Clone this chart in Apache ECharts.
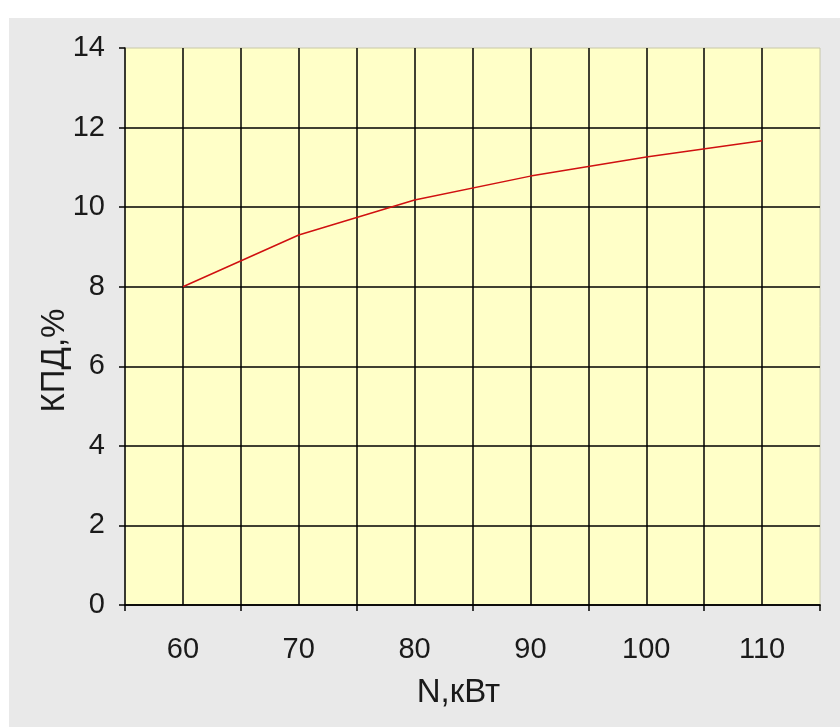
<!DOCTYPE html>
<html>
<head>
<meta charset="utf-8">
<script src="https://cdn.jsdelivr.net/npm/echarts@6/dist/echarts.min.js"></script>
<style>
html,body{margin:0;padding:0;background:#ffffff;}
#wrap{position:absolute;left:9px;top:18px;width:831px;height:709px;background:#e9e9e9;}
#c{position:absolute;left:0;top:0;width:840px;height:727px;}
</style>
</head>
<body>
<div id="wrap"></div>
<div id="c"></div>
<script>
const categories = [60, 70, 80, 90, 100, 110];
const efficiency = [8.0, 9.3, 10.18, 10.78, 11.26, 11.67];
const yTicks = [0, 2, 4, 6, 8, 10, 12, 14];

const chart = echarts.init(document.getElementById('c'), null, {renderer: 'canvas'});
const font = '"Liberation Sans", Arial, sans-serif';
chart.setOption({
  backgroundColor: 'transparent',
  animation: false,
  grid: {left: 125, right: 20, top: 48, bottom: 122, show: true,
         backgroundColor: '#ffffc8', borderColor: '#c8c8a8', borderWidth: 1},
  xAxis: [{
    type: 'value', min: 55, max: 115, interval: 5,
    axisLine: {show: true, lineStyle: {color: '#000', width: 1.5}},
    axisTick: {show: false},
    axisLabel: {color: '#1a1a1a', fontSize: 29, fontFamily: font, margin: 30,
      formatter: v => categories.indexOf(v) >= 0 ? String(v) : ''},
    splitLine: {show: true, showMinLine: false, showMaxLine: false, lineStyle: {color: '#000', width: 1.5}},
    name: 'N,кВт', nameLocation: 'middle', nameGap: 71,
    nameTextStyle: {color: '#1a1a1a', fontSize: 33, fontFamily: font, padding: [0, 28, 0, 0]}
  }, {
    type: 'value', min: 55, max: 115, interval: 10, position: 'bottom',
    axisLine: {show: true, lineStyle: {color: '#000', width: 1.5}},
    axisTick: {show: true, length: 6, lineStyle: {color: '#000', width: 1.5}},
    axisLabel: {show: false},
    splitLine: {show: false}
  }],
  yAxis: {
    type: 'value', min: yTicks[0], max: yTicks[yTicks.length - 1], interval: 2,
    axisLine: {show: true, lineStyle: {color: '#000', width: 1.5}},
    axisTick: {show: true, length: 6, lineStyle: {color: '#000', width: 1.5}},
    axisLabel: {color: '#1a1a1a', fontSize: 29, fontFamily: font, margin: 20},
    splitLine: {show: true, showMinLine: false, showMaxLine: false, lineStyle: {color: '#000', width: 1.5}},
    name: 'КПД,%', nameLocation: 'middle', nameGap: 54, nameRotate: 90, nameMoveOverlap: false,
    nameTextStyle: {color: '#1a1a1a', fontSize: 33, fontFamily: font, padding: [0, 68, 0, 0]}
  },
  series: [{
    type: 'line', xAxisIndex: 0,
    data: categories.map((c, i) => [c, efficiency[i]]),
    symbol: 'none',
    lineStyle: {color: '#d01010', width: 1.5}
  }]
});
</script>
</body>
</html>
